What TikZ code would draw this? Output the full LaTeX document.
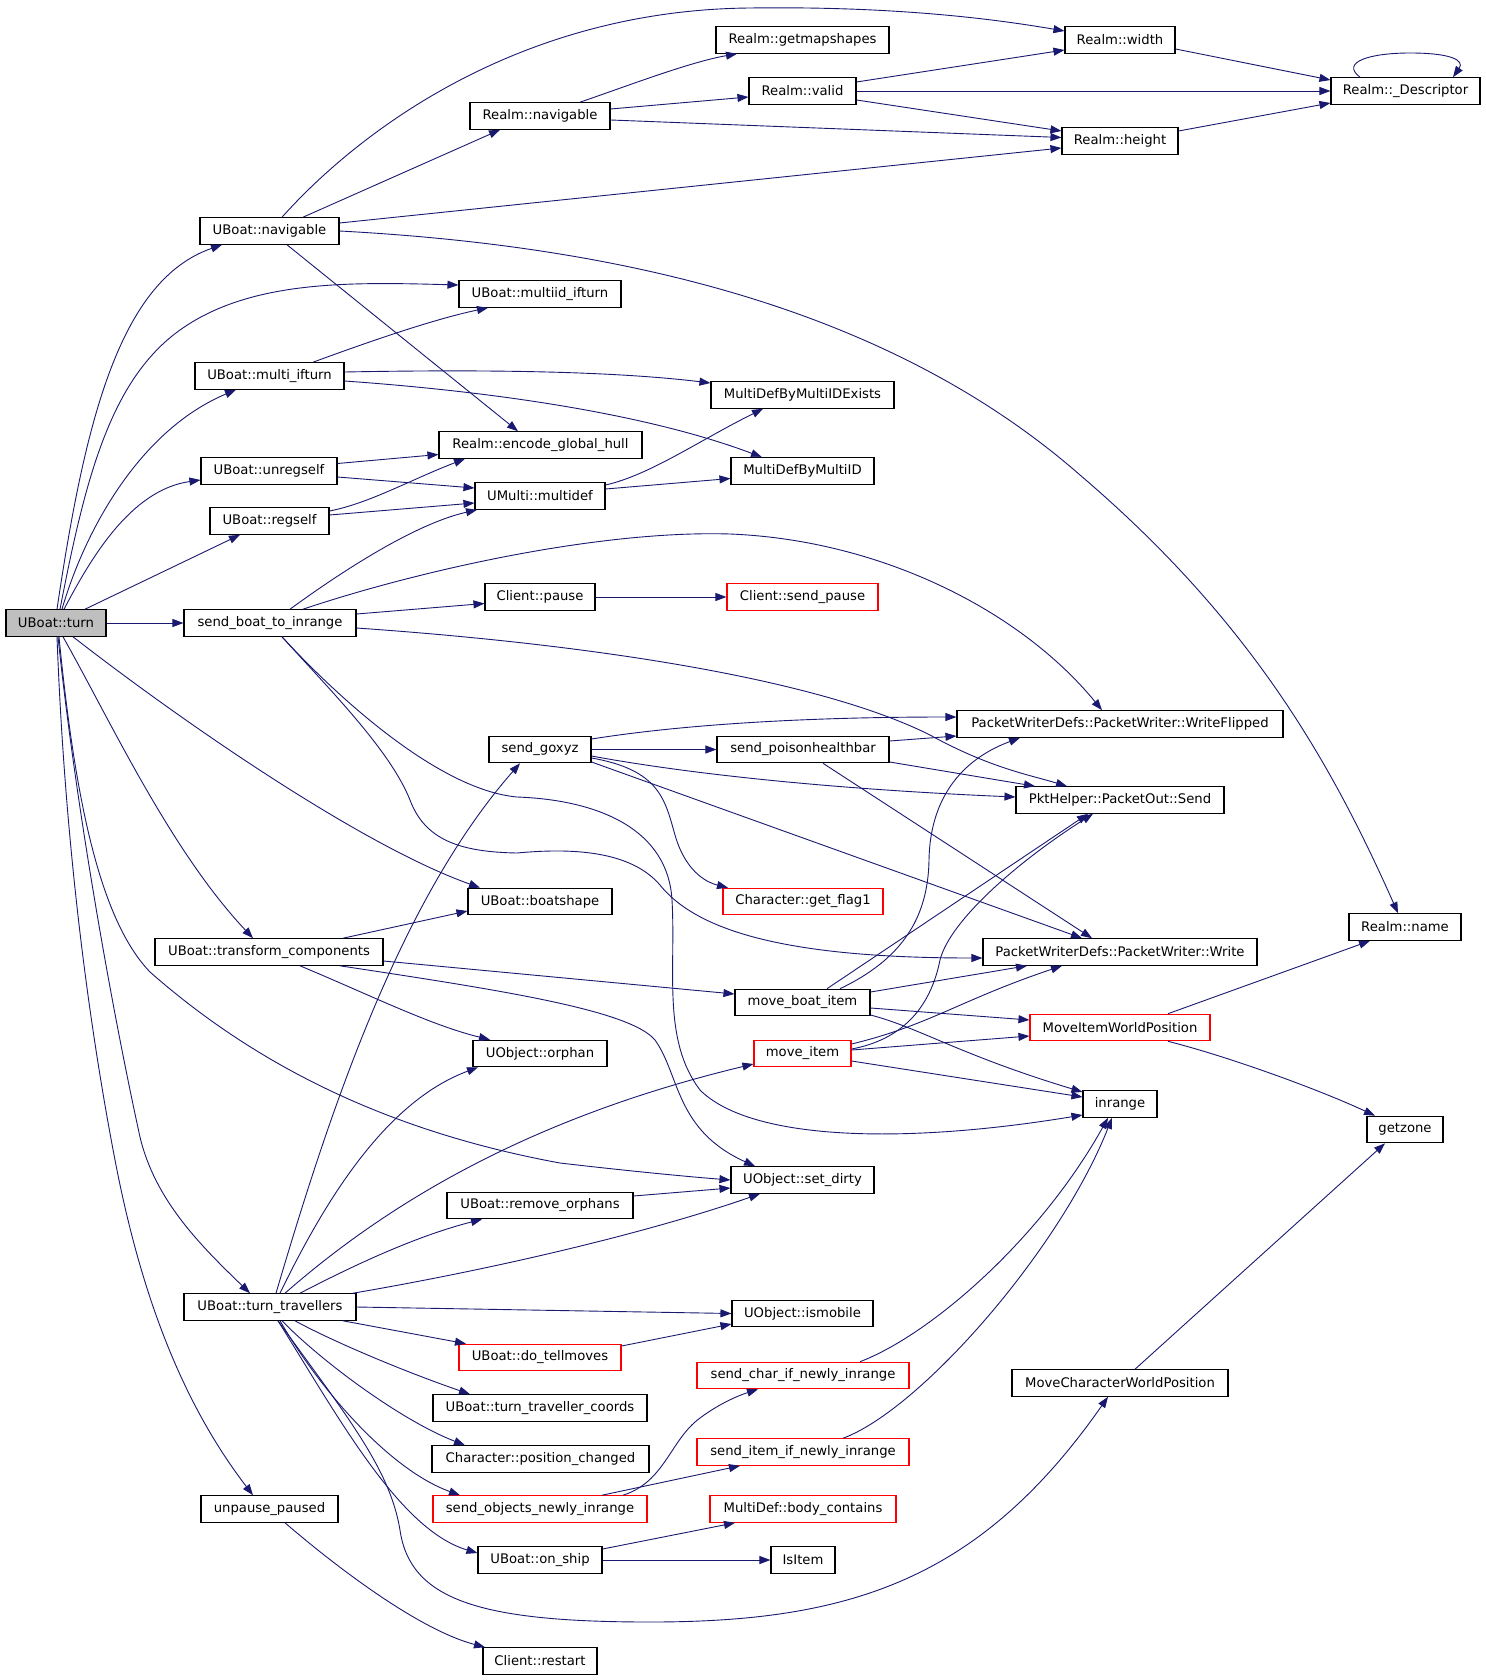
\documentclass[tikz,border=0pt]{standalone}
\usepackage{fontspec}
\setmainfont{DejaVu Sans}
\usetikzlibrary{arrows.meta}
\definecolor{eblue}{HTML}{191970}
\definecolor{tgrey}{HTML}{BFBFBF}
\newcommand\nodefont{\fontsize{13.2}{15}\selectfont}
\begin{document}
\begin{tikzpicture}[x=1pt,y=-1pt,
 box/.style={draw=black,line width=1.1pt,rectangle,inner sep=0pt,minimum height=26.5pt,font=\nodefont,text=black},
 rbox/.style={box,draw=red},
 e/.style={draw=eblue,line width=0.9pt,-{Triangle[length=11pt,width=8pt]}}]
\fill[white] (0,0) rectangle (1485,1680);
\useasboundingbox (0,0) rectangle (1485,1680);
% nodes
\node[box,fill=tgrey,minimum width=100pt] (turn) at (56,623) {UBoat::turn};
\node[box,minimum width=139pt] (navU) at (269.5,231) {UBoat::navigable};
\node[box,minimum width=162pt] (multiid) at (540,294) {UBoat::multiid\_ifturn};
\node[box,minimum width=149pt] (multiif) at (269.5,376) {UBoat::multi\_ifturn};
\node[box,minimum width=136pt] (unreg) at (269,471) {UBoat::unregself};
\node[box,minimum width=119pt] (reg) at (269.5,521) {UBoat::regself};
\node[box,minimum width=172pt] (sbti) at (270,623) {send\_boat\_to\_inrange};
\node[box,minimum width=144pt] (boatshape) at (540,901.5) {UBoat::boatshape};
\node[box,minimum width=228pt] (transform) at (269,952) {UBoat::transform\_components};
\node[box,minimum width=172pt] (turntrav) at (270,1307) {UBoat::turn\_travellers};
\node[box,minimum width=137pt] (unpause) at (269.5,1509) {unpause\_paused};
\node[box,minimum width=140pt] (navR) at (540,116) {Realm::navigable};
\node[box,minimum width=173pt] (getmap) at (802.5,40) {Realm::getmapshapes};
\node[box,minimum width=107pt] (valid) at (802.5,91) {Realm::valid};
\node[box,minimum width=110pt] (width) at (1120,40) {Realm::width};
\node[box,minimum width=116pt] (height) at (1120,141) {Realm::height};
\node[box,minimum width=149pt] (desc) at (1405.5,91) {Realm::\_Descriptor};
\node[box,minimum width=203pt] (encode) at (540.5,445) {Realm::encode\_global\_hull};
\node[box,minimum width=183pt] (mdexists) at (802.5,395) {MultiDefByMultiIDExists};
\node[box,minimum width=143pt] (mdbyid) at (802.5,471) {MultiDefByMultiID};
\node[box,minimum width=130pt] (multidef) at (540,496) {UMulti::multidef};
\node[box,minimum width=110pt] (pause) at (540,597) {Client::pause};
\node[rbox,minimum width=151pt] (sendpause) at (802.5,597) {Client::send\_pause};
\node[box,minimum width=102pt] (goxyz) at (540,749.5) {send\_goxyz};
\node[box,minimum width=172pt] (poison) at (803,749.5) {send\_poisonhealthbar};
\node[box,minimum width=326pt] (wflip) at (1120,724) {PacketWriterDefs::PacketWriter::WriteFlipped};
\node[box,minimum width=208pt] (send) at (1120,800) {PktHelper::PacketOut::Send};
\node[rbox,minimum width=160pt] (flag) at (803,901.5) {Character::get\_flag1};
\node[box,minimum width=112pt] (rname) at (1405,927) {Realm::name};
\node[box,minimum width=274pt] (write) at (1120,952) {PacketWriterDefs::PacketWriter::Write};
\node[box,minimum width=135pt] (moveboat) at (802.5,1002.5) {move\_boat\_item};
\node[rbox,minimum width=180pt] (mipos) at (1120,1027.5) {MoveItemWorldPosition};
\node[box,minimum width=134pt] (orphan) at (540,1053.5) {UObject::orphan};
\node[rbox,minimum width=97pt] (moveitem) at (802.5,1053.5) {move\_item};
\node[box,minimum width=74pt] (inrange) at (1120,1104) {inrange};
\node[box,minimum width=76pt] (getzone) at (1405,1129.5) {getzone};
\node[box,minimum width=143pt] (setdirty) at (802.5,1180) {UObject::set\_dirty};
\node[box,minimum width=186pt] (rmorph) at (540,1205.5) {UBoat::remove\_orphans};
\node[box,minimum width=141pt] (ismobile) at (802.5,1313.5) {UObject::ismobile};
\node[rbox,minimum width=162pt] (tell) at (540,1357.5) {UBoat::do\_tellmoves};
\node[rbox,minimum width=212pt] (charnew) at (803,1375.5) {send\_char\_if\_newly\_inrange};
\node[box,minimum width=216pt] (mcwp) at (1120,1383) {MoveCharacterWorldPosition};
\node[box,minimum width=214pt] (coords) at (540,1408) {UBoat::turn\_traveller\_coords};
\node[rbox,minimum width=212pt] (itemnew) at (803,1452) {send\_item\_if\_newly\_inrange};
\node[box,minimum width=217pt] (poschg) at (540.5,1459) {Character::position\_changed};
\node[rbox,minimum width=214pt] (sobj) at (540,1509) {send\_objects\_newly\_inrange};
\node[rbox,minimum width=186pt] (body) at (803,1509) {MultiDef::body\_contains};
\node[box,minimum width=124pt] (onship) at (540,1560) {UBoat::on\_ship};
\node[box,minimum width=64pt] (isitem) at (803,1560) {IsItem};
\node[box,minimum width=114pt] (restart) at (540,1661) {Client::restart};
% edges from UBoat::turn
\draw[e] ([xshift=1pt]turn.north) .. controls (85,420) and (120,280) .. ([xshift=-47.5pt]navU.south);
\draw[e] ([xshift=4pt]turn.north) .. controls (85,480) and (110,380) .. (180,330) .. controls (250,280) and (350,282) .. ([yshift=9pt]multiid.west);
\draw[e] ([xshift=6pt]turn.north) .. controls (85,530) and (140,430) .. ([xshift=-33.5pt]multiif.south);
\draw[e] ([xshift=8pt]turn.north) .. controls (90,560) and (130,490) .. ([yshift=-9pt]unreg.west);
\draw[e] ([xshift=29pt]turn.north) -- ([xshift=-29.5pt]reg.south);
\draw[e] (turn) -- (sbti);
\draw[e] ([xshift=17pt]turn.south) .. controls (180,720) and (360,845) .. ([xshift=-60pt]boatshape.north);
\draw[e] ([xshift=7pt]turn.south) .. controls (110,720) and (170,850) .. ([xshift=-16pt]transform.north);
\draw[e] ([xshift=3pt]turn.south) .. controls (75,800) and (100,920) .. (150,972) .. controls (250,1060) and (380,1130) .. (560,1163) .. controls (620,1170) and (680,1176) .. (setdirty.west);
\draw[e] ([xshift=2pt]turn.south) .. controls (75,800) and (110,1000) .. (140,1137) .. controls (155,1200) and (200,1245) .. ([xshift=-20pt]turntrav.north);
\draw[e] ([xshift=1pt]turn.south) .. controls (65,850) and (90,1030) .. (115,1160) .. controls (140,1290) and (180,1400) .. ([xshift=-16.5pt]unpause.north);
% UBoat::navigable
\draw[e] ([xshift=12.5pt]navU.north) .. controls (360,130) and (520,10) .. (750,8) .. controls (900,6) and (1000,20) .. ([yshift=9pt]width.west);
\draw[e] ([xshift=33.5pt]navU.north) -- ([xshift=-40pt]navR.south);
\draw[e] ([yshift=8pt]navU.east) -- ([yshift=-7pt]height.west);
\draw[e] (navU.east) .. controls (600,245) and (880,300) .. (1080,475) .. controls (1250,620) and (1330,760) .. ([xshift=-7pt]rname.north);
\draw[e] ([xshift=17.5pt]navU.south) -- ([xshift=-22.5pt]encode.north);
% Realm::navigable, valid, width, height
\draw[e] ([xshift=40pt]navR.north) .. controls (630,85) and (690,62) .. ([xshift=-65.5pt]getmap.south);
\draw[e] ([yshift=7pt]navR.east) -- ([yshift=-6pt]valid.west);
\draw[e] ([yshift=-4pt]navR.east) -- ([yshift=3.5pt]height.west);
\draw[e] ([yshift=9pt]valid.east) -- ([yshift=-10pt]width.west);
\draw[e] (valid.east) -- (desc.west);
\draw[e] ([yshift=-9pt]valid.east) -- ([yshift=10pt]height.west);
\draw[e] ([yshift=-9pt]width.east) -- ([yshift=11pt]desc.west);
\draw[e] ([yshift=10pt]height.east) -- ([yshift=-12pt]desc.west);
\draw[e] ([xshift=-45.5pt]desc.north) .. controls (1340,62) and (1370,53) .. (1410,53) .. controls (1450,53) and (1465,60) .. ([xshift=47.5pt]desc.north);
% multi_ifturn, unregself, regself, multidef
\draw[e] ([xshift=43.5pt]multiif.north) .. controls (360,345) and (430,320) .. ([xshift=-52pt]multiid.south);
\draw[e] ([yshift=4pt]multiif.east) .. controls (500,369) and (620,372) .. ([yshift=12pt]mdexists.west);
\draw[e] ([yshift=-5pt]multiif.east) .. controls (500,392) and (650,415) .. ([xshift=-40.5pt]mdbyid.north);
\draw[e] ([yshift=7.5pt]unreg.east) -- ([yshift=-9.5pt]encode.west);
\draw[e] ([yshift=-6pt]unreg.east) -- ([yshift=8pt]multidef.west);
\draw[e] ([yshift=10pt]reg.east) .. controls (370,503) and (410,480) .. ([xshift=-75.5pt]encode.south);
\draw[e] ([yshift=6pt]reg.east) -- ([yshift=-7pt]multidef.west);
\draw[e] ([xshift=20pt]sbti.north) .. controls (330,580) and (410,525) .. ([xshift=-63pt]multidef.south);
\draw[e] ([yshift=11pt]multidef.east) .. controls (650,475) and (700,440) .. ([xshift=-39.5pt]mdexists.south);
\draw[e] ([yshift=7pt]multidef.east) -- ([yshift=-7.5pt]mdbyid.west);
% send_boat_to_inrange
\draw[e] ([yshift=9pt]sbti.east) -- ([yshift=-6.5pt]pause.west);
\draw[e] ([xshift=33pt]sbti.north) .. controls (420,570) and (600,530) .. (730,534) .. controls (880,540) and (1020,610) .. ([xshift=-18pt]wflip.north);
\draw[e] ([yshift=-5pt]sbti.east) .. controls (600,645) and (820,680) .. (930,735) .. controls (990,768) and (1030,775) .. ([xshift=-53pt]send.north);
\draw[e] ([xshift=12pt]sbti.south) .. controls (330,690) and (390,750) .. (410,800) .. controls (425,840) and (460,852) .. (517,853) .. controls (570,848) and (630,850) .. (660,885) .. controls (700,935) and (800,958) .. ([yshift=-6pt]write.west);
\draw[e] ([xshift=12pt]sbti.south) .. controls (340,700) and (440,790) .. (517,797) .. controls (600,800) and (668,830) .. (672,900) .. controls (676,970) and (662,1040) .. (700,1090) .. controls (750,1140) and (900,1145) .. ([yshift=-11pt]inrange.west);
\draw[e] (pause) -- (sendpause);
% send_goxyz, send_poisonhealthbar
\draw[e] ([xshift=6pt]turntrav.north) .. controls (330,1110) and (400,900) .. ([xshift=-20pt]goxyz.south);
\draw[e] ([yshift=10.5pt]goxyz.east) .. controls (680,725) and (800,717) .. ([yshift=7pt]wflip.west);
\draw[e] (goxyz) -- (poison);
\draw[e] ([yshift=-6.5pt]goxyz.east) .. controls (700,776) and (850,790) .. ([yshift=3pt]send.west);
\draw[e] ([yshift=-8.5pt]goxyz.east) .. controls (660,770) and (665,800) .. (675,835) .. controls (685,870) and (705,882) .. ([xshift=-75pt]flag.north);
\draw[e] ([yshift=-12.5pt]goxyz.east) -- ([xshift=-38pt]write.north);
\draw[e] ([yshift=8.5pt]poison.east) -- ([yshift=-12pt]wflip.west);
\draw[e] ([yshift=-12.5pt]poison.east) -- ([xshift=-85pt]send.north);
\draw[e] ([xshift=20pt]poison.south) -- ([xshift=-28pt]write.north);
% transform_components
\draw[e] ([xshift=74pt]transform.north) -- ([yshift=-9.5pt]boatshape.west);
\draw[e] ([yshift=-9pt]transform.east) -- ([yshift=8.5pt]moveboat.west);
\draw[e] ([xshift=31pt]transform.south) .. controls (370,995) and (430,1025) .. ([xshift=-50pt]orphan.north);
\draw[e] ([xshift=71pt]transform.south) .. controls (500,990) and (630,1010) .. (655,1040) .. controls (680,1075) and (675,1130) .. ([xshift=-47.5pt]setdirty.north);
% turn_travellers
\draw[e] ([xshift=10pt]turntrav.north) .. controls (330,1190) and (390,1100) .. ([xshift=-62pt]orphan.south);
\draw[e] ([xshift=15pt]turntrav.north) .. controls (380,1210) and (520,1120) .. ([yshift=-10.5pt]moveitem.west);
\draw[e] ([xshift=30pt]turntrav.north) .. controls (360,1262) and (420,1235) .. ([xshift=-58pt]rmorph.south);
\draw[e] ([xshift=83pt]turntrav.north) .. controls (500,1268) and (650,1232) .. ([xshift=-42.5pt]setdirty.south);
\draw[e] (turntrav.east) -- (ismobile.west);
\draw[e] ([xshift=73pt]turntrav.south) -- ([xshift=-74pt]tell.north);
\draw[e] ([xshift=25pt]turntrav.south) .. controls (330,1340) and (400,1370) .. ([xshift=-70pt]coords.north);
\draw[e] ([xshift=12pt]turntrav.south) .. controls (320,1360) and (400,1420) .. ([xshift=-75.5pt]poschg.north);
\draw[e] ([xshift=10pt]turntrav.south) .. controls (320,1390) and (390,1470) .. ([xshift=-80pt]sobj.north);
\draw[e] ([xshift=8pt]turntrav.south) .. controls (340,1420) and (400,1530) .. ([yshift=7pt]onship.west);
\draw[e] ([xshift=8pt]turntrav.south) .. controls (350,1420) and (390,1470) .. (400,1530) .. controls (410,1600) and (480,1622) .. (650,1622) .. controls (850,1622) and (980,1580) .. ([xshift=-12pt]mcwp.south);
\draw[e] ([xshift=15.5pt]unpause.south) .. controls (340,1570) and (420,1630) .. ([xshift=-55pt]restart.north);
% lower middle
\draw[e] ([yshift=9.5pt]rmorph.east) -- ([yshift=-8pt]setdirty.west);
\draw[e] ([yshift=11.5pt]tell.east) -- ([yshift=-10.5pt]ismobile.west);
\draw[e] ([xshift=83pt]sobj.north) .. controls (665,1482) and (670,1440) .. (700,1418) .. controls (720,1403) and (740,1395) .. ([xshift=-45pt]charnew.south);
\draw[e] ([xshift=62pt]sobj.north) -- ([xshift=-63pt]itemnew.south);
\draw[e] ([xshift=57pt]charnew.north) .. controls (930,1335) and (1040,1240) .. ([xshift=-12pt]inrange.south);
\draw[e] ([xshift=40pt]itemnew.north) .. controls (920,1410) and (1060,1250) .. ([xshift=-8pt]inrange.south);
\draw[e] ([yshift=11pt]onship.east) -- ([xshift=-68pt]body.south);
\draw[e] (onship) -- (isitem);
\draw[e] ([xshift=15pt]mcwp.north) -- ([xshift=-20pt]getzone.south);
\draw[e] ([xshift=48pt]mipos.north) -- ([xshift=-35pt]rname.south);
\draw[e] ([xshift=48pt]mipos.south) .. controls (1230,1057) and (1320,1090) .. ([xshift=-30pt]getzone.north);
% move_boat_item, move_item
\draw[e] ([xshift=37.5pt]moveboat.north) .. controls (900,960) and (928,920) .. (929,860) .. controls (930,800) and (960,760) .. ([xshift=-100pt]wflip.south);
\draw[e] ([xshift=24.5pt]moveboat.north) -- ([xshift=-32pt]send.south);
\draw[e] ([yshift=4.5pt]moveitem.east) .. controls (900,1040) and (930,1010) .. (940,960) .. controls (950,920) and (1020,860) .. ([xshift=-27pt]send.south);
\draw[e] ([yshift=10.5pt]moveboat.east) -- ([xshift=-93pt]write.south);
\draw[e] ([yshift=9.5pt]moveitem.east) .. controls (930,1025) and (960,1000) .. ([xshift=-58pt]write.south);
\draw[e] ([yshift=-5.5pt]moveboat.east) -- ([yshift=7.5pt]mipos.west);
\draw[e] ([yshift=3.5pt]moveitem.east) -- ([yshift=-8.5pt]mipos.west);
\draw[e] ([yshift=-12.5pt]moveboat.east) .. controls (920,1028) and (960,1055) .. ([yshift=12pt]inrange.west);
\draw[e] ([yshift=-7.5pt]moveitem.east) -- ([yshift=7pt]inrange.west);
\end{tikzpicture}
\end{document}
